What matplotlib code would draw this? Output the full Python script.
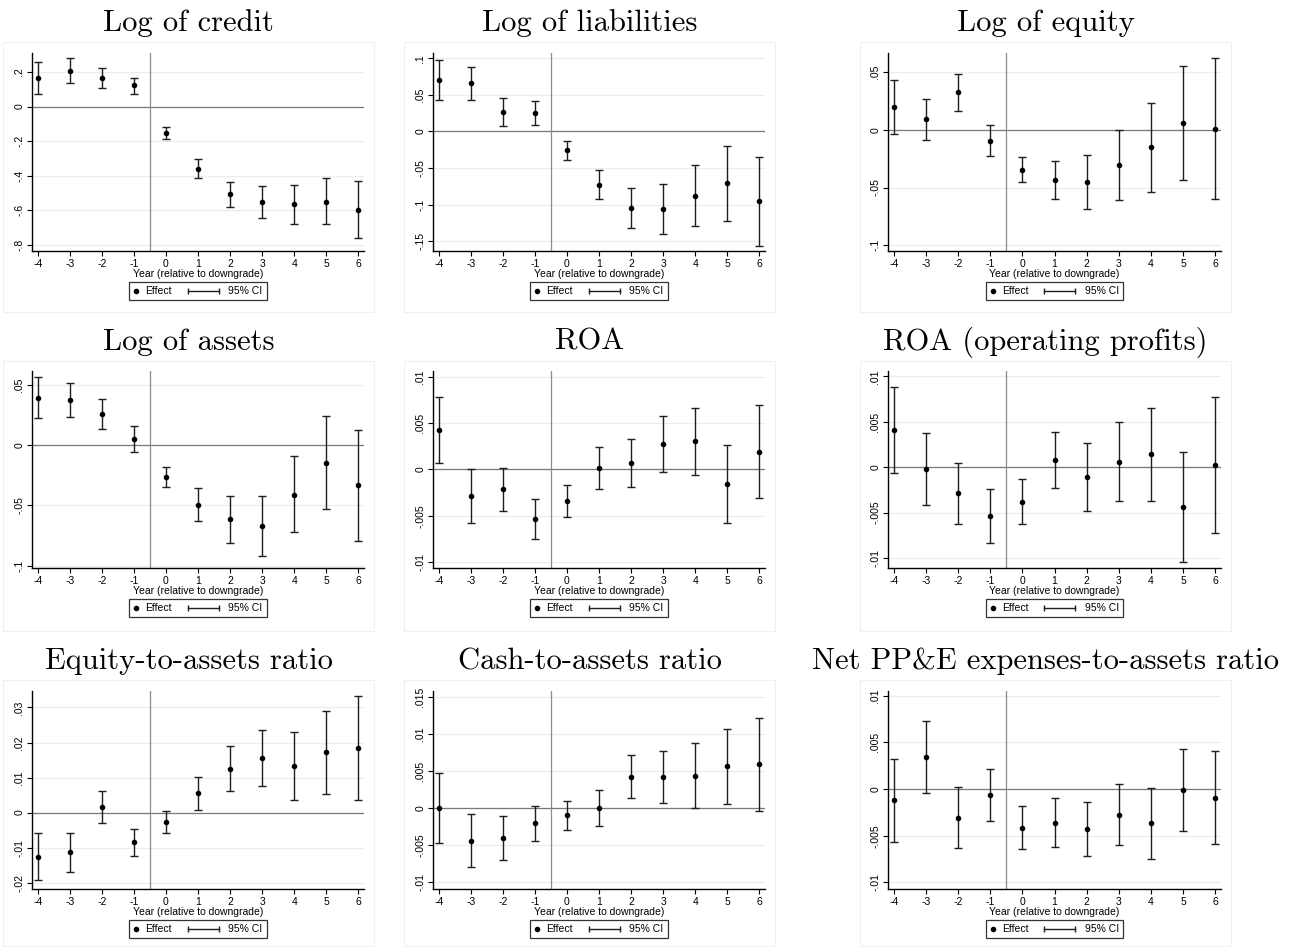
import matplotlib
matplotlib.use('Agg')
import matplotlib.pyplot as plt
from matplotlib.lines import Line2D
from matplotlib.patches import Rectangle
from matplotlib.legend_handler import HandlerLine2D

plt.rcParams['font.family'] = ['Liberation Sans', 'DejaVu Sans']

years = [-4, -3, -2, -1, 0, 1, 2, 3, 4, 5, 6]

titles = ["Log of credit", "Log of liabilities", "Log of equity",
          "Log of assets", "ROA", "ROA (operating profits)",
          "Equity-to-assets ratio", "Cash-to-assets ratio",
          "Net PP&E expenses-to-assets ratio"]

# point estimates and 95% CI bounds
credit_b = [0.166, 0.206, 0.166, 0.123, -0.150, -0.359, -0.507, -0.549, -0.565, -0.549, -0.596]
credit_lo = [0.071, 0.137, 0.106, 0.075, -0.185, -0.411, -0.580, -0.642, -0.677, -0.681, -0.762]
credit_hi = [0.258, 0.280, 0.224, 0.168, -0.116, -0.305, -0.436, -0.457, -0.455, -0.413, -0.430]

liab_b = [0.070, 0.0655, 0.0268, 0.0255, -0.0255, -0.0727, -0.1045, -0.1064, -0.0877, -0.0709, -0.0955]
liab_lo = [0.0427, 0.0427, 0.0077, 0.0091, -0.0386, -0.0923, -0.1318, -0.1405, -0.1295, -0.1223, -0.1559]
liab_hi = [0.0977, 0.088, 0.0459, 0.0418, -0.0127, -0.0532, -0.0768, -0.0723, -0.0459, -0.0195, -0.0345]

equity_b = [0.0197, 0.0093, 0.0327, -0.0093, -0.0345, -0.0434, -0.0455, -0.0307, -0.0151, 0.0058, 0.0009]
equity_lo = [-0.0035, -0.0084, 0.0165, -0.0226, -0.0452, -0.0599, -0.0689, -0.0608, -0.0538, -0.0431, -0.0599]
equity_hi = [0.0431, 0.0269, 0.0486, 0.0041, -0.0237, -0.0272, -0.0217, -0.0003, 0.0235, 0.0553, 0.0620]

assets_b = [0.0394, 0.0377, 0.0257, 0.0053, -0.0265, -0.0494, -0.0614, -0.0670, -0.0411, -0.0145, -0.0332]
assets_lo = [0.0223, 0.0235, 0.0131, -0.0056, -0.0352, -0.0631, -0.0810, -0.0922, -0.0723, -0.0533, -0.0799]
assets_hi = [0.0567, 0.0517, 0.0385, 0.0159, -0.0179, -0.0360, -0.0422, -0.0422, -0.0095, 0.0243, 0.0128]

roa_b = [0.00424, -0.00288, -0.00214, -0.00530, -0.00342, 0.00014, 0.00068, 0.00270, 0.00303, -0.00157, 0.00192]
roa_lo = [0.00071, -0.00577, -0.00448, -0.00747, -0.00516, -0.00210, -0.00192, -0.00032, -0.00057, -0.00573, -0.00306]
roa_hi = [0.00776, 0.0, 0.00021, -0.00313, -0.00164, 0.00238, 0.00327, 0.00577, 0.00662, 0.00263, 0.00694]

roaop_b = [0.00408, -0.00018, -0.00288, -0.00535, -0.00382, 0.00080, -0.00106, 0.00062, 0.00142, -0.00437, 0.00025]
roaop_lo = [-0.00069, -0.00415, -0.00623, -0.00830, -0.00626, -0.00233, -0.00481, -0.00375, -0.00375, -0.01049, -0.00721]
roaop_hi = [0.00881, 0.00375, 0.00047, -0.00240, -0.00135, 0.00390, 0.00270, 0.00503, 0.00656, 0.00171, 0.00776]

eqta_b = [-0.0126, -0.0113, 0.0015, -0.0085, -0.0026, 0.0055, 0.0125, 0.0156, 0.0132, 0.0172, 0.0185]
eqta_lo = [-0.0192, -0.0169, -0.0031, -0.0125, -0.0057, 0.0008, 0.0061, 0.0077, 0.0035, 0.0052, 0.0037]
eqta_hi = [-0.0058, -0.0058, 0.0061, -0.0046, 0.0006, 0.0102, 0.0189, 0.0236, 0.0230, 0.0290, 0.0334]

cash_b = [0.0, -0.00437, -0.00402, -0.00205, -0.00098, 0.00004, 0.00424, 0.00424, 0.00429, 0.00563, 0.00594]
cash_lo = [-0.00473, -0.00799, -0.00701, -0.00442, -0.00299, -0.00241, 0.00134, 0.00071, -0.00004, 0.00058, -0.00036]
cash_hi = [0.00469, -0.00076, -0.00107, 0.00031, 0.00094, 0.00246, 0.00719, 0.00777, 0.00875, 0.01062, 0.01214]

ppe_b = [-0.00121, 0.00345, -0.00306, -0.00068, -0.00413, -0.00359, -0.00431, -0.00274, -0.00367, -0.00007, -0.00093]
ppe_lo = [-0.00566, -0.00039, -0.00633, -0.00342, -0.00641, -0.00623, -0.00722, -0.00598, -0.00747, -0.00448, -0.00591]
ppe_hi = [0.00320, 0.00730, 0.00018, 0.00210, -0.00185, -0.00096, -0.00135, 0.00050, 0.00007, 0.00431, 0.00406]

yticks = [[0.2, 0, -0.2, -0.4, -0.6, -0.8],
          [0.1, 0.05, 0, -0.05, -0.1, -0.15],
          [0.05, 0, -0.05, -0.1],
          [0.05, 0, -0.05, -0.1],
          [0.01, 0.005, 0, -0.005, -0.01],
          [0.01, 0.005, 0, -0.005, -0.01],
          [0.03, 0.02, 0.01, 0, -0.01, -0.02],
          [0.015, 0.01, 0.005, 0, -0.005, -0.01],
          [0.01, 0.005, 0, -0.005, -0.01]]
ylims = [(-0.835, 0.31), (-0.163, 0.107), (-0.105, 0.0666),
         (-0.102, 0.0614), (-0.0106, 0.0106), (-0.0111, 0.0106),
         (-0.0218, 0.0347), (-0.0109, 0.0158), (-0.0107, 0.0105)]

estimates = [credit_b, liab_b, equity_b, assets_b, roa_b, roaop_b, eqta_b, cash_b, ppe_b]
lows = [credit_lo, liab_lo, equity_lo, assets_lo, roa_lo, roaop_lo, eqta_lo, cash_lo, ppe_lo]
highs = [credit_hi, liab_hi, equity_hi, assets_hi, roa_hi, roaop_hi, eqta_hi, cash_hi, ppe_hi]


def stata_fmt(v):
    s = "%g" % v
    return s if s == "0" else s.replace("0.", ".")


class SizedHandler(HandlerLine2D):
    # legend handler with its own handle width (points)
    def __init__(self, w, **kw):
        super().__init__(**kw)
        self.w = w

    def legend_artist(self, legend, orig_handle, fontsize, handlebox):
        handlebox.width = self.w
        return super().legend_artist(legend, orig_handle, fontsize, handlebox)


W, H = 1299, 947
fig = plt.figure(figsize=(W / 100, H / 100), dpi=100)

col_left = [32, 433, 888]
col_right = [364, 765, 1221]
box_left = [3, 404, 860]
row_top = [53, 371, 691]
row_bot = [251, 568, 889]
box_top = [42, 361, 680]
box_bot = [312, 631, 946]
title_base = [31, 350, 669]

gridc = '#e6eef0'
for i in range(9):
    r, c = divmod(i, 3)
    l, rt, t, b = col_left[c], col_right[c], row_top[r], row_bot[r]
    # light outer frame of each panel
    fig.patches.append(Rectangle((box_left[c] / W, 1 - box_bot[r] / H), 371 / W,
                                 (box_bot[r] - box_top[r]) / H, transform=fig.transFigure,
                                 fill=False, edgecolor='#f0f0f0', linewidth=0.8))
    ax = fig.add_axes([l / W, 1 - b / H, (rt - l) / W, (b - t) / H])
    for yt in yticks[i]:
        ax.axhline(yt, color=gridc, linewidth=0.9, zorder=0)
    ax.axhline(0, color='#7a7a7a', linewidth=0.9, zorder=1)
    ax.axvline(-0.5, color='#8c8c8c', linewidth=0.9, zorder=1)
    b_ = estimates[i]
    err = [[e - lo for e, lo in zip(b_, lows[i])], [hi - e for e, hi in zip(b_, highs[i])]]
    ax.errorbar(years, b_, yerr=err, fmt='o', color='black', ecolor='#1e1e1e',
                markersize=3, elinewidth=1.0, capsize=2.6, capthick=1.0, zorder=3)
    ax.set_xlim(-4.18, 6.18)
    ax.set_ylim(*ylims[i])
    ax.set_xticks(years)
    ax.set_xticklabels([str(y) for y in years], fontsize=7.5)
    ax.set_yticks(yticks[i])
    ax.set_yticklabels([stata_fmt(v) for v in yticks[i]], fontsize=7.5, rotation=90, va='center')
    ax.tick_params(length=3.5, width=0.8, pad=2)
    ax.spines['top'].set_visible(False)
    ax.spines['right'].set_visible(False)
    ax.spines['left'].set_linewidth(1.0)
    ax.spines['bottom'].set_linewidth(1.0)
    ax.set_xlabel("Year (relative to downgrade)", fontsize=7.5, labelpad=0)

    h1 = Line2D([], [], linestyle='none', marker='o', color='black', markersize=3)
    h2 = Line2D([0, 1], [0, 0], color='#1e1e1e', linewidth=1.0, marker='|', markersize=4)
    leg = ax.legend([h1, h2], ["Effect", "95% CI"], loc='upper center', ncol=2,
                    bbox_to_anchor=((l + rt) / 2 / W, 1 - (b + 31) / H), bbox_transform=fig.transFigure,
                    fontsize=7.5, frameon=True, fancybox=False, edgecolor='black',
                    handlelength=0.5, handletextpad=0.6, columnspacing=1.2,
                    borderpad=0.4, borderaxespad=0,
                    handler_map={h1: SizedHandler(4, numpoints=1),
                                 h2: SizedHandler(27, numpoints=2)})
    leg.get_frame().set_linewidth(0.9)

    fig.text((box_left[c] + 371 / 2) / W, 1 - title_base[r] / H, titles[i],
             family='cmr10', fontsize=22, ha='center', va='baseline')

fig.savefig('out.png', dpi=100)
